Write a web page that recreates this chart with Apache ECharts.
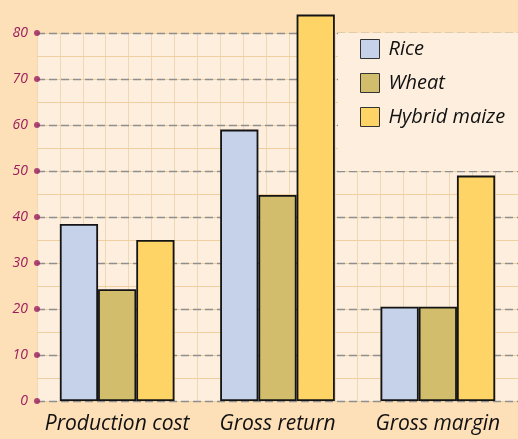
<!DOCTYPE html>
<html>
<head>
<meta charset="utf-8">
<script src="https://cdn.jsdelivr.net/npm/echarts@6/dist/echarts.min.js"></script>
<style>
  html, body { margin: 0; padding: 0; background: #fddfb8; }
  #chart { width: 518px; height: 439px; }
</style>
</head>
<body>
<div id="chart"></div>
<script>
// Farm economics by crop (values in thousand per hectare)
const categories = ['Production cost', 'Gross return', 'Gross margin'];
const rice = [38.5, 59, 20.5];
const wheat = [24.3, 44.8, 20.5];
const hybridMaize = [35, 84, 49];
const yTicks = [0, 10, 20, 30, 40, 50, 60, 70, 80];

const inkFont = '"Open Sans", "DejaVu Sans", sans-serif';
const chart = echarts.init(document.getElementById('chart'));

function barSeries(name, data, color) {
  return {
    name: name,
    type: 'bar',
    data: data,
    xAxisIndex: 0,
    yAxisIndex: 0,
    clip: false,
    barGap: '0%',
    barCategoryGap: '28.5%',
    itemStyle: { color: color, borderColor: '#141414', borderWidth: 1.8 },
    z: 3
  };
}

chart.setOption({
  backgroundColor: '#fddfb8',
  animation: false,
  grid: {
    left: 37, top: 33, right: -5, bottom: 38,
    show: true, backgroundColor: '#fdeede', borderWidth: 0
  },
  legend: {
    top: 33, left: 338, orient: 'vertical',
    padding: [6, 60, 44, 22],
    backgroundColor: '#fdeede',
    icon: 'rect',
    itemWidth: 19, itemHeight: 19, itemGap: 14,
    textStyle: { fontFamily: inkFont, fontStyle: 'italic', fontSize: 20, lineHeight: 20, color: '#111', padding: [0, 0, 0, 4] },
    itemStyle: { borderColor: '#333', borderWidth: 1 },
    data: ['Rice', 'Wheat', 'Hybrid maize'],
    z: 2.5
  },
  xAxis: [
    {
      type: 'category', data: categories,
      axisLine: { show: false }, axisTick: { show: false },
      axisLabel: { interval: 0, fontFamily: inkFont, fontStyle: 'italic', fontSize: 21, fontWeight: 500, color: '#111', margin: 13 },
      splitLine: { show: false }
    },
    {
      // fine vertical ruling of the paper
      type: 'value', min: 0, max: 21, interval: 1, show: true,
      axisLine: { show: false }, axisTick: { show: false }, axisLabel: { show: false },
      splitLine: { show: true, lineStyle: { color: '#eed8b6', width: 1 } }
    }
  ],
  yAxis: [
    {
      type: 'value', min: 0, max: 80, interval: 10,
      axisLine: { show: false }, axisTick: { show: false },
      axisLabel: { fontFamily: inkFont, fontStyle: 'italic', fontSize: 14, color: '#9b1d5c', margin: 9 },
      splitLine: { show: true, lineStyle: { color: '#8f8f8f', type: [8, 4], width: 1.4 } },
      z: 2
    },
    {
      // fine horizontal ruling every 5
      type: 'value', min: 0, max: 80, interval: 5,
      axisLine: { show: false }, axisTick: { show: false }, axisLabel: { show: false },
      splitLine: { show: true, lineStyle: { color: '#efcf9f', width: 1 } },
      z: 1
    }
  ],
  series: [
    barSeries('Rice', rice, '#c6d1ea'),
    barSeries('Wheat', wheat, '#d1bd6c'),
    barSeries('Hybrid maize', hybridMaize, '#ffd466'),
    {
      type: 'scatter', xAxisIndex: 1, yAxisIndex: 0,
      data: yTicks.map(v => [0, v]),
      symbolSize: 6, clip: false,
      itemStyle: { color: '#9b1d5c' },
      silent: true, z: 4
    }
  ]
});
</script>
</body>
</html>
